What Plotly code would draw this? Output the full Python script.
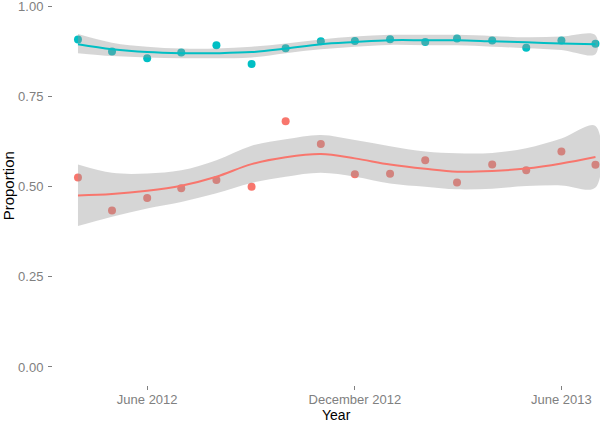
import plotly.graph_objects as go

months = [
    "2012-04-01", "2012-05-01", "2012-06-01", "2012-07-01", "2012-08-01",
    "2012-09-01", "2012-10-01", "2012-11-01", "2012-12-01", "2013-01-01",
    "2013-02-01", "2013-03-01", "2013-04-01", "2013-05-01", "2013-06-01",
    "2013-07-01",
]

# observed proportions
teal_points = [0.909, 0.876, 0.857, 0.873, 0.893, 0.841, 0.885, 0.904,
               0.905, 0.910, 0.902, 0.912, 0.906, 0.886, 0.906, 0.897]
red_points = [0.526, 0.434, 0.469, 0.496, 0.519, 0.500, 0.682, 0.619,
              0.535, 0.536, 0.574, 0.512, 0.562, 0.546, 0.598, 0.561]

# smoothed fit and confidence band
teal_fit = [0.896, 0.882, 0.874, 0.871, 0.871, 0.874, 0.884, 0.896,
            0.902, 0.907, 0.907, 0.907, 0.904, 0.901, 0.898, 0.896]
teal_hi = [0.924, 0.900, 0.889, 0.884, 0.884, 0.889, 0.898, 0.909,
           0.917, 0.922, 0.922, 0.922, 0.919, 0.915, 0.917, 0.921]
teal_lo = [0.871, 0.863, 0.859, 0.857, 0.857, 0.859, 0.871, 0.882,
           0.889, 0.894, 0.893, 0.893, 0.889, 0.885, 0.880, 0.868]

red_fit = [0.476, 0.480, 0.489, 0.503, 0.528, 0.563, 0.582, 0.591,
           0.579, 0.562, 0.550, 0.542, 0.544, 0.551, 0.565, 0.583]
red_hi = [0.562, 0.539, 0.537, 0.546, 0.574, 0.614, 0.632, 0.644,
          0.630, 0.613, 0.598, 0.593, 0.594, 0.607, 0.634, 0.669]
red_lo = [0.391, 0.417, 0.440, 0.458, 0.482, 0.511, 0.528, 0.539,
          0.528, 0.509, 0.500, 0.493, 0.495, 0.502, 0.504, 0.498]

tick_vals = ["2012-06-01", "2012-12-01", "2013-06-01"]
tick_text = ["June 2012", "December 2012", "June 2013"]
y_ticks = [0, 0.25, 0.5, 0.75, 1.0]

TEAL = "#00BFC4"
RED = "#F8766D"
BAND = "rgba(153,153,153,0.4)"

fig = go.Figure()

for pts, color in [(teal_points, TEAL), (red_points, RED)]:
    fig.add_trace(go.Scatter(
        x=months, y=pts, mode="markers",
        marker=dict(color=color, size=8, line=dict(width=0)),
        cliponaxis=False, showlegend=False,
    ))

for fit, hi, lo, color in [(teal_fit, teal_hi, teal_lo, TEAL),
                           (red_fit, red_hi, red_lo, RED)]:
    fig.add_trace(go.Scatter(
        x=months + months[::-1], y=hi + lo[::-1],
        mode="lines", fill="toself", fillcolor=BAND,
        line=dict(width=0, shape="spline", smoothing=1),
        hoverinfo="skip", showlegend=False,
    ))
    fig.add_trace(go.Scatter(
        x=months, y=fit, mode="lines",
        line=dict(color=color, width=2, shape="spline", smoothing=1),
        showlegend=False,
    ))

tick_font = dict(family="Liberation Sans, Arial", size=13, color="#808080")

fig.update_layout(
    width=600, height=421,
    margin=dict(l=53, r=0, t=0, b=36),
    plot_bgcolor="white", paper_bgcolor="white",
    xaxis=dict(
        type="date", automargin=False,
        range=["2012-03-10", "2013-07-05"],
        tickvals=tick_vals, ticktext=tick_text,
        ticks="outside", ticklen=4, tickwidth=1, tickcolor="#808080",
        tickfont=tick_font, ticklabelstandoff=-2, ticklabeloverflow="allow",
        showgrid=False, zeroline=False, showline=False,
    ),
    yaxis=dict(
        automargin=False,
        range=[-0.05, 1.0186],
        tickvals=y_ticks, ticktext=["0.00", "0.25", "0.50", "0.75", "1.00"],
        ticks="outside", ticklen=4, tickwidth=1, tickcolor="#808080",
        tickfont=tick_font, ticklabelstandoff=2, ticklabeloverflow="allow",
        showgrid=False, zeroline=False, showline=False,
    ),
    annotations=[
        dict(text="Year", xref="paper", yref="paper", x=0.519, y=0,
             yshift=-39, xanchor="center", yanchor="bottom", showarrow=False,
             borderpad=0,
             font=dict(family="Liberation Sans, Arial", size=14, color="black")),
        dict(text="Proportion", xref="paper", yref="paper", x=0, xshift=-45,
             y=0.516, textangle=-90, xanchor="center", yanchor="middle",
             showarrow=False,
             font=dict(family="Liberation Sans, Arial", size=15, color="black")),
    ],
)

# drop the page's default body margin so the chart sits at the window corner
fig.write_html("out.html", config={"displayModeBar": False},
               post_script="document.body.style.margin='0';")
